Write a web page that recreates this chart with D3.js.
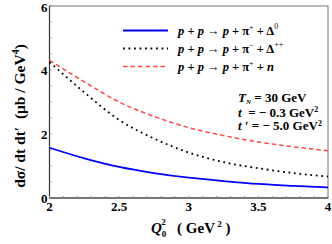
<!DOCTYPE html>
<html>
<head>
<script src="https://cdn.jsdelivr.net/npm/d3@7"></script>
<style>
body { margin: 0; background: #fff; }
text { font-family: 'Liberation Serif', 'DejaVu Serif', serif; font-weight: bold; white-space: pre; }
</style>
</head>
<body>
<svg width="332" height="244"></svg>
<script>
const q2 = [2, 2.25, 2.5, 2.75, 3, 3.25, 3.5, 3.75, 4];
const delta0 = [1.57, 1.24, 0.97, 0.78, 0.635, 0.53, 0.44, 0.38, 0.33];
const deltaPP = [4.25, 3.3, 2.44, 1.86, 1.42, 1.12, 0.93, 0.78, 0.67];
const neutron = [4.3, 3.63, 3.0, 2.55, 2.2, 1.95, 1.75, 1.6, 1.48];
const xTicks = [2, 2.5, 3, 3.5, 4];
const yTicks = [0, 2, 4, 6];

const svg = d3.select('svg');
const pL = 49.5, pR = 328, pT = 6, pB = 198;

const x = d3.scaleLinear().domain([2, 4]).range([pL, pR]);
const y = d3.scaleLinear().domain([0, 6]).range([pB, pT]);

// frame
svg.append('rect')
  .attr('x', pL).attr('y', pT)
  .attr('width', pR - pL).attr('height', pB - pT)
  .attr('fill', 'none').attr('stroke', '#777').attr('stroke-width', 1);
svg.append('path')
  .attr('d', `M${pL},${pT}V${pB}H${pR}`)
  .attr('fill', 'none').attr('stroke', '#333').attr('stroke-width', 1.2);

// minor ticks
d3.range(2, 4.001, 0.1).forEach(v => {
  svg.append('line').attr('x1', x(v)).attr('x2', x(v))
    .attr('y1', pB).attr('y2', pB - 2).attr('stroke', '#888');
});
d3.range(0, 6.001, 0.5).forEach(v => {
  svg.append('line').attr('x1', pL).attr('x2', pL + 2)
    .attr('y1', y(v)).attr('y2', y(v)).attr('stroke', '#888');
});

// tick labels
svg.selectAll('.xt').data(xTicks).enter().append('text')
  .attr('x', d => x(d)).attr('y', 211)
  .attr('text-anchor', 'middle').attr('font-size', 13)
  .text(d => d);
svg.selectAll('.yt').data(yTicks).enter().append('text')
  .attr('x', pL - 2).attr('y', d => Math.max(y(d) + 4.5, 12))
  .attr('text-anchor', 'end').attr('font-size', 13)
  .text(d => d);

// curves
const series = [
  { vals: delta0, color: '#0000ff', dash: null, width: 1.8 },
  { vals: deltaPP, color: '#000', dash: '1.8,3.7', width: 1.8 },
  { vals: neutron, color: '#ff4a4a', dash: '4.5,3', width: 1.5 }
];
const line = d3.line().x(d => x(d[0])).y(d => y(d[1])).curve(d3.curveMonotoneX);
series.forEach(s => {
  svg.append('path')
    .datum(q2.map((v, i) => [v, s.vals[i]]))
    .attr('d', line)
    .attr('fill', 'none')
    .attr('stroke', s.color)
    .attr('stroke-width', s.width)
    .attr('stroke-dasharray', s.dash);
});

// legend
const legendRows = [
  { sign: '+', part: 'Δ', sup: '0' },
  { sign: '−', part: 'Δ', sup: '++' },
  { sign: '+', part: null, sup: null }
];
legendRows.forEach((r, i) => {
  const ly = 30.5 + i * 18;
  const s = series[i];
  svg.append('line')
    .attr('x1', 123).attr('x2', 168).attr('y1', ly).attr('y2', ly)
    .attr('stroke', s.color).attr('stroke-width', s.width)
    .attr('stroke-dasharray', s.dash);
  const t = svg.append('text').attr('x', 178).attr('y', ly + 4).attr('font-size', 12.5);
  t.append('tspan').attr('font-style', 'italic').text('p');
  t.append('tspan').text(' + ');
  t.append('tspan').attr('font-style', 'italic').text('p');
  t.append('tspan').text(' → ');
  t.append('tspan').attr('font-style', 'italic').text('p');
  t.append('tspan').text(' + π');
  t.append('tspan').attr('font-size', 8).attr('font-weight', 'normal').attr('dy', -5).text(r.sign);
  t.append('tspan').attr('dy', 5).text(' + ');
  if (r.part) {
    t.append('tspan').text(r.part);
    t.append('tspan').attr('font-size', 8).attr('font-weight', 'normal').attr('dy', -6).text(r.sup);
  } else {
    t.append('tspan').attr('font-style', 'italic').text('n');
  }
});

// annotation
const a1 = svg.append('text').attr('x', 238).attr('y', 101.5).attr('font-size', 13);
a1.append('tspan').attr('font-style', 'italic').text('T');
a1.append('tspan').attr('font-style', 'italic').attr('font-size', 7).attr('dy', 2).text('N');
a1.append('tspan').attr('dy', -2).text(' = 30 GeV');
const a2 = svg.append('text').attr('x', 238).attr('y', 116.5).attr('font-size', 13);
a2.append('tspan').attr('font-style', 'italic').text('t');
a2.append('tspan').text('  = − 0.3 GeV');
a2.append('tspan').attr('font-size', 8).attr('dy', -5).text('2');
const a3 = svg.append('text').attr('x', 238).attr('y', 130).attr('font-size', 13);
a3.append('tspan').attr('font-style', 'italic').text('t ′');
a3.append('tspan').text(' = − 5.0 GeV');
a3.append('tspan').attr('font-size', 8).attr('dy', -4).text('2');

// x label
const xl = svg.append('text').attr('x', 151).attr('y', 233).attr('font-size', 15);
xl.append('tspan').attr('font-style', 'italic').text('Q');
xl.append('tspan').attr('font-size', 9).attr('dy', 4).text('0');
xl.append('tspan').attr('font-size', 9).attr('dx', -5).attr('dy', -12).text('2');
xl.append('tspan').attr('dy', 8).text('   ( GeV');
xl.append('tspan').attr('font-size', 9).attr('dy', -6).text(' 2');
xl.append('tspan').attr('dy', 6).text(' )');

// y label
const yl = svg.append('text').attr('transform', 'translate(25,116) rotate(-90)')
  .attr('text-anchor', 'middle').attr('font-size', 15.5);
yl.append('tspan').text('dσ/ dt dt′  (μb / GeV');
yl.append('tspan').attr('font-size', 10).attr('dy', -6).text('4');
yl.append('tspan').attr('dy', 6).text(')');
</script>
</body>
</html>
